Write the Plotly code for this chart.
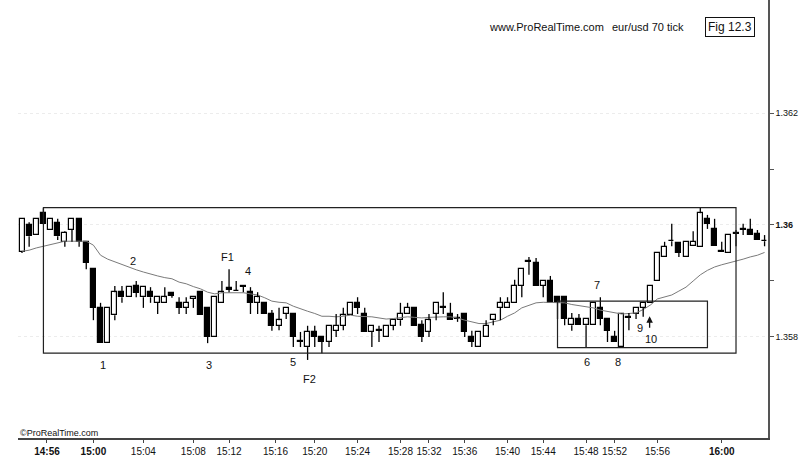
import plotly.graph_objects as go

# ---- data ----
OPEN = [1.35952,1.36000,1.35982,1.36021,1.35991,1.36004,1.35970,1.35991,1.36011,1.35970,
        1.35921,1.35852,1.35789,1.35839,1.35880,1.35871,1.35891,1.35871,1.35880,1.35861,
        1.35861,1.35879,1.35861,1.35852,1.35868,1.35880,1.35852,1.35800,1.35861,1.35887,
        1.35882,1.35890,1.35880,1.35861,1.35861,1.35841,1.35820,1.35841,1.35841,1.35792,
        1.35782,1.35809,1.35800,1.35791,1.35811,1.35820,1.35839,1.35861,1.35841,1.35809,
        1.35811,1.35800,1.35820,1.35830,1.35841,1.35852,1.35821,1.35809,1.35841,1.35852,
        1.35841,1.35834,1.35841,1.35800,1.35782,1.35800,1.35830,1.35852,1.35852,1.35861,
        1.35891,1.35934,1.35932,1.35891,1.35900,1.35871,1.35871,1.35821,1.35832,1.35821,
        1.35821,1.35852,1.35832,1.35800,1.35782,1.35834,1.35841,1.35852,1.35861,1.35900,
        1.35943,1.35972,1.35968,1.35943,1.35962,1.35961,1.36011,1.35993,1.35953,1.35950,
        1.35984,1.35991,1.35991,1.35984,1.35971]
HIGH = [1.36011,1.36005,1.36011,1.36030,1.36011,1.36011,1.35989,1.36011,1.36011,1.35970,
        1.35923,1.35861,1.35852,1.35891,1.35891,1.35889,1.35900,1.35889,1.35889,1.35871,
        1.35889,1.35879,1.35871,1.35871,1.35871,1.35880,1.35852,1.35871,1.35900,1.35921,
        1.35900,1.35891,1.35889,1.35880,1.35861,1.35848,1.35852,1.35852,1.35841,1.35809,
        1.35820,1.35820,1.35800,1.35820,1.35841,1.35852,1.35861,1.35871,1.35852,1.35820,
        1.35820,1.35820,1.35830,1.35861,1.35861,1.35852,1.35830,1.35841,1.35861,1.35880,
        1.35861,1.35841,1.35841,1.35811,1.35809,1.35830,1.35839,1.35871,1.35871,1.35902,
        1.35921,1.35943,1.35941,1.35900,1.35909,1.35871,1.35871,1.35843,1.35841,1.35832,
        1.35861,1.35871,1.35832,1.35811,1.35841,1.35843,1.35852,1.35861,1.35891,1.35950,
        1.35970,1.36002,1.35968,1.35970,1.35989,1.36032,1.36018,1.36011,1.35970,1.35982,
        1.35991,1.36002,1.36011,1.35991,1.35982]
LOW = [1.35950,1.35961,1.35982,1.36002,1.35991,1.35973,1.35961,1.35970,1.35961,1.35921,
       1.35830,1.35789,1.35789,1.35830,1.35861,1.35871,1.35871,1.35852,1.35861,1.35841,
       1.35861,1.35870,1.35841,1.35841,1.35852,1.35839,1.35789,1.35800,1.35861,1.35880,
       1.35882,1.35880,1.35841,1.35841,1.35841,1.35811,1.35812,1.35832,1.35782,1.35782,
       1.35759,1.35782,1.35771,1.35782,1.35800,1.35812,1.35839,1.35841,1.35809,1.35782,
       1.35791,1.35800,1.35812,1.35820,1.35841,1.35820,1.35791,1.35800,1.35830,1.35841,
       1.35830,1.35827,1.35800,1.35782,1.35782,1.35800,1.35821,1.35830,1.35852,1.35861,
       1.35871,1.35911,1.35891,1.35871,1.35861,1.35832,1.35821,1.35811,1.35821,1.35782,
       1.35821,1.35821,1.35791,1.35791,1.35782,1.35812,1.35832,1.35836,1.35861,1.35900,
       1.35943,1.35962,1.35943,1.35943,1.35962,1.35961,1.35993,1.35962,1.35952,1.35950,
       1.35962,1.35982,1.35982,1.35973,1.35962]
CLOSE = [1.36011,1.35980,1.36011,1.36002,1.36011,1.35980,1.35986,1.36011,1.35970,1.35932,
         1.35852,1.35789,1.35852,1.35880,1.35871,1.35889,1.35879,1.35889,1.35871,1.35871,
         1.35871,1.35873,1.35852,1.35861,1.35871,1.35839,1.35800,1.35871,1.35880,1.35884,
         1.35883,1.35891,1.35861,1.35871,1.35841,1.35820,1.35830,1.35852,1.35800,1.35791,
         1.35809,1.35800,1.35791,1.35820,1.35820,1.35839,1.35861,1.35852,1.35809,1.35820,
         1.35812,1.35820,1.35830,1.35841,1.35852,1.35820,1.35800,1.35830,1.35861,1.35853,
         1.35830,1.35833,1.35809,1.35791,1.35809,1.35820,1.35839,1.35861,1.35861,1.35891,
         1.35921,1.35935,1.35891,1.35900,1.35861,1.35861,1.35832,1.35832,1.35821,1.35832,
         1.35861,1.35832,1.35811,1.35791,1.35841,1.35835,1.35852,1.35861,1.35891,1.35950,
         1.35961,1.35971,1.35950,1.35970,1.35970,1.36021,1.36002,1.35962,1.35952,1.35982,
         1.35985,1.35992,1.35982,1.35973,1.35972]
MA = [1.35953,1.35955,1.35959,1.35962,1.35966,1.35969,1.35971,1.35971,1.35971,1.35971,
      1.35964,1.35946,1.35939,1.35934,1.35929,1.35924,1.35920,1.35916,1.35912,1.35909,
      1.35906,1.35904,1.35898,1.35895,1.35890,1.35886,1.35880,1.35877,1.35879,1.35879,
      1.35879,1.35879,1.35877,1.35875,1.35870,1.35864,1.35862,1.35861,1.35855,1.35850,
      1.35846,1.35842,1.35837,1.35837,1.35836,1.35837,1.35839,1.35837,1.35837,1.35836,
      1.35834,1.35832,1.35833,1.35835,1.35836,1.35835,1.35834,1.35835,1.35836,1.35836,
      1.35836,1.35834,1.35830,1.35827,1.35824,1.35824,1.35827,1.35830,1.35837,1.35843,
      1.35852,1.35857,1.35861,1.35862,1.35862,1.35862,1.35861,1.35858,1.35856,1.35854,
      1.35852,1.35848,1.35846,1.35843,1.35841,1.35842,1.35843,1.35849,1.35857,1.35868,
      1.35871,1.35875,1.35882,1.35889,1.35900,1.35911,1.35919,1.35925,1.35929,1.35932,
      1.35936,1.35939,1.35943,1.35946,1.35951]

TICK_POS = [3.5, 10, 17, 24, 29, 35.5, 41, 47, 53, 57, 62, 68, 73, 79, 83, 89, 98]
TICK_LABELS = ["<b>14:56</b>", "<b>15:00</b>", "15:04", "15:08", "15:12", "15:16", "15:20",
               "15:24", "15:28", "15:32", "15:36", "15:40", "15:44", "15:48", "15:52",
               "15:56", "<b>16:00</b>"]
Y_TICKS = [1.358, 1.36, 1.362]
Y_TICK_LABELS = ["1.358", "<b>1.36</b>", "1.362"]
Y_MINOR = [1.359, 1.361]

# range box and setup box (bar index / price)
BIG_BOX = dict(x0=3, x1=100, y0=1.35771, y1=1.36031)
SMALL_BOX = dict(x0=75, x1=96, y0=1.35781, y1=1.35864)

LABELS = [("2", 15.5, 1.35936), ("F1", 28.8, 1.35943), ("4", 31.7, 1.35917),
          ("1", 11.3, 1.35750), ("3", 26.2, 1.35750), ("5", 38.0, 1.35755),
          ("F2", 40.2, 1.35725), ("6", 79.1, 1.35755), ("7", 80.5, 1.35892),
          ("8", 83.5, 1.35755), ("9", 86.5, 1.35816), ("10", 88.1, 1.35796)]
ARROW_10 = (87.9, 1.35837)

FONT = "Liberation Sans, Arial, sans-serif"
INK = "#111111"

idx = list(range(len(OPEN)))

# wicks: upper and lower segments so that hollow bodies are not crossed
wx, wy = [], []
for i, o, h, l, c in zip(idx, OPEN, HIGH, LOW, CLOSE):
    top, bot = max(o, c), min(o, c)
    if h > top:
        wx += [i, i, None]; wy += [top, h, None]
    if l < bot:
        wx += [i, i, None]; wy += [bot, l, None]

MIN_BODY = 0.000008
base = [min(o, c) for o, c in zip(OPEN, CLOSE)]
height = [max(abs(c - o), MIN_BODY) for o, c in zip(OPEN, CLOSE)]
colors = ["white" if c >= o else "black" for o, c in zip(OPEN, CLOSE)]

fig = go.Figure()
fig.add_trace(go.Scatter(x=idx, y=MA, mode="lines", line=dict(color="#7a7a7a", width=1),
                         hoverinfo="skip"))
fig.add_trace(go.Scatter(x=wx, y=wy, mode="lines", line=dict(color="black", width=1.3),
                         hoverinfo="skip", connectgaps=False))
fig.add_trace(go.Bar(x=idx, y=height, base=base, width=0.7,
                     marker=dict(color=colors, line=dict(color="black", width=1.2))))

for b in (BIG_BOX, SMALL_BOX):
    fig.add_shape(type="rect", xref="x", yref="y", x0=b["x0"], x1=b["x1"],
                  y0=b["y0"], y1=b["y1"], line=dict(color="#222", width=1.2),
                  fillcolor="rgba(0,0,0,0)", layer="above")

for t, x, y in LABELS:
    fig.add_annotation(x=x, y=y, text=t, showarrow=False, xref="x", yref="y",
                       font=dict(family=FONT, size=11, color=INK))

fig.add_annotation(x=ARROW_10[0], y=ARROW_10[1], ax=0, ay=13, text="", showarrow=True,
                   arrowhead=2, arrowsize=1, arrowwidth=1.3, arrowcolor=INK,
                   xref="x", yref="y")

fig.add_annotation(xref="paper", yref="paper", x=0.625, y=0.938, xanchor="left",
                   yanchor="middle", text="www.ProRealTime.com", showarrow=False,
                   font=dict(family=FONT, size=11, color=INK))
fig.add_annotation(xref="paper", yref="paper", x=0.789, y=0.938, xanchor="left",
                   yanchor="middle", text="eur/usd 70 tick", showarrow=False,
                   font=dict(family=FONT, size=11, color=INK))
fig.add_annotation(xref="paper", yref="paper", x=0.949, y=0.938, xanchor="center",
                   yanchor="middle", text="Fig 12.3", showarrow=False,
                   bordercolor=INK, borderwidth=1, borderpad=2,
                   font=dict(family=FONT, size=12, color=INK))
fig.add_annotation(xref="paper", yref="paper", x=0.0, y=0.0114, xanchor="left",
                   yanchor="middle", text="©ProRealTime.com", showarrow=False,
                   font=dict(family=FONT, size=9, color=INK))

fig.update_layout(
    width=800, height=467,
    margin=dict(l=18, r=32, t=0, b=29, autoexpand=False),
    paper_bgcolor="white", plot_bgcolor="white",
    showlegend=False, bargap=0, hovermode=False,
    font=dict(family=FONT, color=INK),
    xaxis=dict(range=[-0.56, 104.48], tickvals=TICK_POS, ticktext=TICK_LABELS,
               showgrid=False, zeroline=False, showline=True, linecolor="#444",
               linewidth=1.5, ticks="outside", ticklen=3, tickcolor="#444",
               tickfont=dict(family=FONT, size=10, color=INK)),
    yaxis=dict(range=[1.356196, 1.364018], side="right", tickvals=Y_TICKS,
               ticktext=Y_TICK_LABELS, showgrid=True, gridcolor="#ececec",
               griddash="dot", zeroline=False, showline=True, linecolor="#555",
               linewidth=1.5, ticks="outside", ticklen=4, tickcolor="#555",
               tickfont=dict(family=FONT, size=9, color=INK),
               minor=dict(tickvals=Y_MINOR, ticks="outside", ticklen=4,
                          tickcolor="#555", showgrid=False)),
)

# remove the default 8px page margin so the 800x467 figure fills the window exactly
fig.write_html("out.html", config={"displayModeBar": False},
               post_script="document.body.style.margin='0';"
                           "document.body.style.overflow='hidden';")
